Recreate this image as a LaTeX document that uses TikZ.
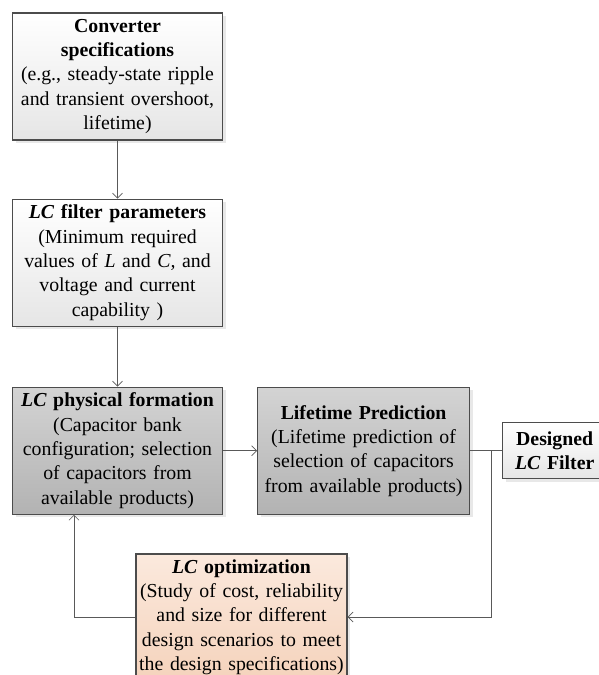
\documentclass[tikz,border=0pt]{standalone}
\usepackage{fontspec}
\setmainfont{Liberation Serif}
\usetikzlibrary{arrows.meta,positioning,shadows}

\definecolor{peachtop}{HTML}{FBE9DD}
\definecolor{peachbot}{HTML}{F5D3BC}

\begin{document}
\begin{tikzpicture}[>={Straight Barb[length=5pt,width=10pt]},auto,node distance=58pt,
                    flow/.style={draw=black!65,line width=0.7pt},
                    stage/.style={rectangle,draw=black!70,line width=1.1pt,align=center,
                      text width=206pt,minimum width=210pt,minimum height=127pt,inner sep=2pt,
                      font=\fontsize{19.8}{24.3}\selectfont,
                      drop shadow={shadow xshift=3pt,shadow yshift=-3pt,fill=black!15,opacity=0.6}},
                    light stage/.style={stage,top color=white,bottom color=black!10},
                    dark stage/.style={stage,top color=black!17,bottom color=black!30},
                    opt stage/.style={stage,top color=peachtop,bottom color=peachbot}]
      \useasboundingbox (0,0) rectangle (599pt,-675pt);
      \node[light stage] (spec) at (117.5pt,-76.5pt)
        {\textbf{Converter\\ specifications}\\ (e.g., steady-state ripple\\ and transient overshoot,\\ lifetime)};
      \node[light stage] (param) [below=of spec]
        {\textbf{\textit{LC} filter parameters}\\ (Minimum required\\ values of \textit{L} and \textit{C,} and\\ voltage and current\\ capability )};
      \node[dark stage] (form) [below=60pt of param]
        {\textbf{\textit{LC} physical formation}\\ (Capacitor bank\\ configuration; selection\\ of capacitors from\\ available products)};
      \node[dark stage, text width=208pt, minimum width=212pt] (life) [right=34pt of form]
        {\textbf{Lifetime Prediction}\\ (Lifetime prediction of\\ selection of capacitors\\ from available products)};
      \node[light stage, text width=100pt, minimum width=104pt, minimum height=56pt] (done) [right=32pt of life]
        {\textbf{Designed\\ \textit{LC} Filter}};
      \node[opt stage, text width=207pt, minimum width=211pt, minimum height=126pt] (opt) at (241.5pt,-617pt)
        {\textbf{\textit{LC} optimization}\\ (Study of cost, reliability\\ and size for different\\ design scenarios to meet\\ the design specifications)};
      \coordinate (split) at ([xshift=21pt]life.east);
      \coordinate (back) at ([xshift=-43.5pt]form.south);
      \path[flow]
        (spec) edge [->] (param)
        (param) edge [->] (form)
        (form) edge [->] (life)
        (life) edge [] (done);
      \draw[flow,->] (split) |- (opt.east);
      \draw[flow,->] (opt.west) -| (back);
\end{tikzpicture}
\end{document}
